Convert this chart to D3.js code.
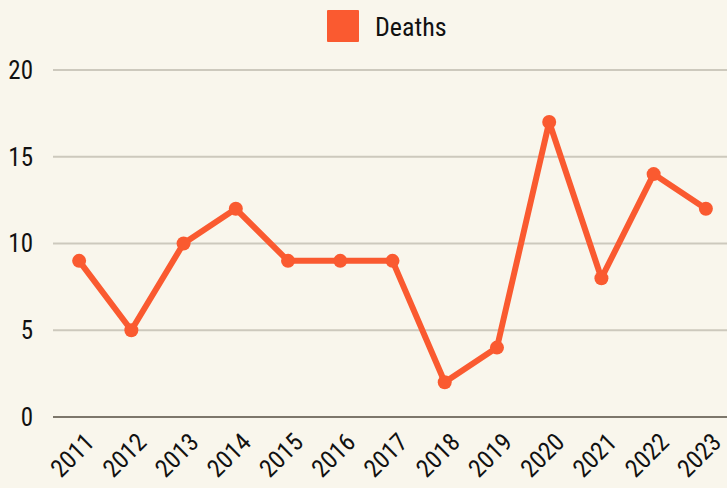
<!DOCTYPE html>
<html><head><meta charset="utf-8">
<script src="https://cdn.jsdelivr.net/npm/d3@7"></script>
<style>
html,body{margin:0;padding:0;background:#f9f6ec;}
svg{display:block;font-family:"Roboto Condensed","Liberation Sans Narrow","DejaVu Sans Condensed",Roboto,sans-serif;}
</style></head><body>
<svg id="c" width="727" height="488"></svg>
<script>
const years = ["2011","2012","2013","2014","2015","2016","2017","2018","2019","2020","2021","2022","2023"];
const deaths = [9,5,10,12,9,9,9,2,4,17,8,14,12];
const yTicks = [0,5,10,15,20];
const seriesName = "Deaths";

const W=727,H=488;
const svg=d3.select("#c");
svg.append("rect").attr("width",W).attr("height",H).attr("fill","#f9f6ec");
const color="#fa5a30";
const x=d3.scalePoint().domain(years).range([53,732]).padding(0.5);
const y=d3.scaleLinear().domain([0,20]).range([417,70]);

const grid=svg.append("g");
grid.selectAll("line").data(yTicks).join("line")
  .attr("x1",53).attr("x2",W).attr("y1",d=>y(d)).attr("y2",d=>y(d))
  .attr("stroke",d=>d===0?"#7d776b":"#cdc9bd").attr("stroke-width",2);
svg.append("g").selectAll("text").data(yTicks).join("text")
  .attr("x",33).attr("y",d=>y(d)).attr("dy","0.35em").attr("text-anchor","end")
  .attr("font-size",25).attr("fill","#111").text(d=>d);

svg.append("g").selectAll("text").data(years).join("text")
  .attr("transform",d=>`translate(${x(d)+4},${431}) rotate(-45)`)
  .attr("text-anchor","end").attr("dy","0.72em")
  .attr("font-size",25).attr("fill","#111").text(d=>d);

const line=d3.line().x((d,i)=>x(years[i])).y(d=>y(d));
svg.append("path").datum(deaths).attr("d",line).attr("fill","none")
  .attr("stroke",color).attr("stroke-width",6).attr("stroke-linejoin","round");
svg.append("g").selectAll("circle").data(deaths).join("circle")
  .attr("cx",(d,i)=>x(years[i])).attr("cy",d=>y(d)).attr("r",7).attr("fill",color);

const lg=svg.append("g");
lg.append("rect").attr("x",327).attr("y",10).attr("width",32).attr("height",32).attr("rx",1).attr("fill",color);
lg.append("text").attr("x",375).attr("y",27).attr("dy","0.35em").attr("font-size",26).attr("fill","#111").text(seriesName);
</script></body></html>
